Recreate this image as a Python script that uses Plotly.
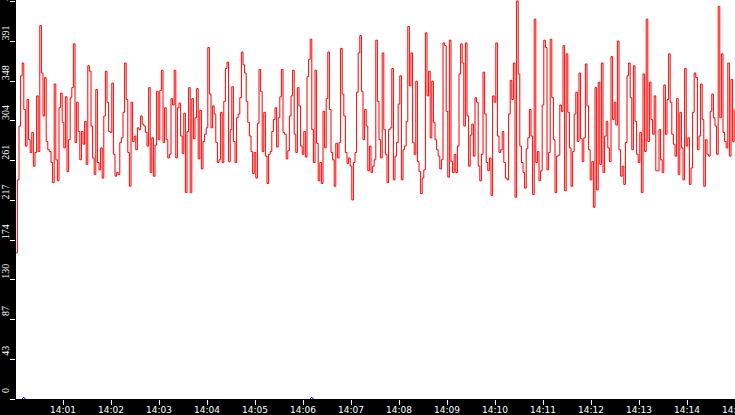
import pandas as pd
import plotly.graph_objects as go

# one sample every 2 seconds, 14:00:01 -> 14:14:59
start_time = "2024-01-01 14:00:01"
n_samples = 450

red_values = [
    160, 240, 299, 354, 368, 317, 277, 328, 284, 270,
    292, 255, 270, 332, 271, 409, 357, 310, 352, 282,
    273, 271, 259, 237, 345, 262, 239, 319, 335, 303,
    275, 331, 249, 284, 330, 341, 389, 281, 325, 293,
    262, 293, 279, 304, 257, 365, 359, 299, 264, 246,
    339, 259, 251, 275, 242, 310, 359, 325, 293, 292,
    346, 268, 244, 248, 246, 281, 286, 314, 368, 328,
    270, 233, 325, 282, 288, 273, 297, 295,
    310, 301, 299, 292, 277, 341, 248, 286, 244, 278,
    337, 284, 338, 360, 281, 319, 284, 264, 268, 329,
    322, 360, 264, 319, 324, 288, 269, 313, 226, 293,
    341, 226, 329, 285, 308, 340, 263, 316, 252, 282,
    290, 297, 385, 334, 297, 321, 312, 281, 259, 262,
    314, 259, 326, 362, 369, 260, 295, 342, 282, 259,
    308, 312, 330, 380, 366, 357, 326, 303, 288, 271,
    247, 270, 242, 302, 361,
    337, 271, 314, 266, 236, 268, 271, 293, 306, 319,
    276, 308, 331, 361, 292, 290, 263, 272, 310, 332,
    360, 290, 270, 341, 321, 277, 268, 293, 265, 353,
    372, 394, 295, 259, 360, 280, 239, 259, 236, 315,
    275, 329, 380, 317, 270, 262, 233, 280, 264, 281,
    384, 334, 310, 270, 258, 264, 255, 218, 259, 270,
    336, 379, 398, 337, 284, 317, 299, 250, 277, 248,
    255, 262, 393, 326, 284,
    264, 379, 295, 268, 237, 295, 297, 362, 240, 266,
    281, 323, 354, 240, 273, 277, 304, 408, 343, 379,
    281, 268, 348, 260, 249, 225, 242, 251, 401, 332,
    359, 286, 348, 303, 284, 273, 266, 252, 262, 390,
    387, 315, 243, 393, 260, 248, 268, 248, 277, 356,
    389, 368, 299, 390, 310, 255, 289, 301, 266, 330,
    325, 255, 239, 268, 358, 312, 259, 250, 264, 223,
    332, 325, 390, 288, 270,
    273, 293, 259, 242, 240, 312, 349, 328, 368, 221,
    436, 356, 277, 259, 248, 231, 274, 286, 317, 288,
    224, 416, 259, 271, 239, 250, 322, 393, 385, 251,
    270, 394, 330, 284, 226, 266, 267, 322, 315, 387,
    228, 378, 314, 275, 233, 271, 312, 336, 282, 357,
    285, 260, 286, 367, 321, 273, 240, 260, 210, 341,
    229, 347, 257, 368, 248, 288, 304, 275, 260, 375,
    306, 325, 300, 392, 273,
    244, 255, 235, 281, 354, 368, 330, 273, 365, 304,
    268, 259, 292, 226, 356, 271, 416, 282, 347, 306,
    290, 332, 250, 250, 295, 262, 248, 344, 290, 328,
    378, 325, 290, 279, 266, 329, 246, 314, 275, 240,
    362, 277, 286, 235, 253, 314, 357, 352, 273, 288,
    345, 306, 233, 284, 268, 266, 315, 334, 308, 299,
    268, 430, 308, 378, 292, 282, 275, 368, 266, 350,
    282, 317,
]

# small blips of the blue series near zero
blue_times = ["2024-01-01 14:00:09", "2024-01-01 14:00:11", "2024-01-01 14:00:13", None,
              "2024-01-01 14:06:09", "2024-01-01 14:06:11", "2024-01-01 14:06:13"]
blue_values = [0, 2, 0, None, 0, 2, 0]

y_tick_vals = [0, 43.5, 87, 130.5, 174, 217.5, 261, 304.5, 348, 391.5, 435]
y_tick_text = ["0", "43", "87", "130", "174", "217", "261", "304", "348", "391", "435"]

times = pd.date_range(start_time, periods=n_samples, freq="2s")

fig = go.Figure()
fig.add_trace(go.Scatter(x=times, y=red_values, mode="lines",
                         line=dict(color="#ff0000", width=1, shape="hv"),
                         hoverinfo="skip"))
fig.add_trace(go.Scatter(x=blue_times, y=blue_values, mode="lines",
                         line=dict(color="#0000ff", width=1),
                         connectgaps=False, hoverinfo="skip"))

fig.update_layout(
    width=735, height=415,
    margin=dict(l=16, r=0, t=0, b=16),
    paper_bgcolor="black", plot_bgcolor="white",
    showlegend=False,
)
fig.update_xaxes(
    type="date",
    range=["2024-01-01 14:00:01.25", "2024-01-01 14:15:00"],
    tick0="2024-01-01 14:00:00", dtick=60000, tickformat="%H:%M",
    ticks="outside", ticklen=5, tickcolor="white", tickwidth=1,
    tickfont=dict(family="DejaVu Sans", size=9, color="white"),
    ticklabeloverflow="allow", automargin=False, ticklabelstandoff=-3,
    showgrid=False, zeroline=False, showline=False,
)
fig.update_yaxes(
    range=[0, 437],
    tickmode="array", tickvals=y_tick_vals, ticktext=y_tick_text,
    tickangle=-90, ticklabelshift=-7,
    ticks="outside", ticklen=5, tickcolor="white", tickwidth=1,
    tickfont=dict(family="Liberation Sans Narrow", size=10, color="white"),
    ticklabeloverflow="allow", automargin=False, ticklabelstandoff=-3,
    showgrid=False, zeroline=False, showline=False,
)

# page has a default 8px body margin; drop it so the figure fills the window
fig.write_html("out.html", config={"displayModeBar": False},
               post_script="document.body.style.margin='0';document.body.style.overflow='hidden';")
